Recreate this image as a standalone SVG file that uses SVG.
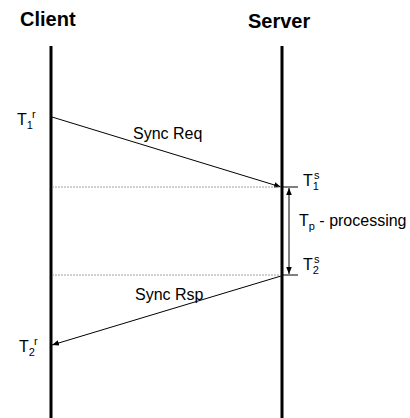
<svg xmlns="http://www.w3.org/2000/svg" width="410" height="418" viewBox="0 0 410 418">
<defs>
<marker id="ah" viewBox="0 0 10 10" refX="10" refY="5" markerWidth="7" markerHeight="7" orient="auto-start-reverse" markerUnits="userSpaceOnUse">
<path d="M0,1 L10,5 L0,9 z" fill="#000"/>
</marker>
<style>
.t{font-family:"Liberation Sans",Arial,sans-serif;font-size:16px;fill:#000}
.h{font-family:"Liberation Sans",Arial,sans-serif;font-size:20px;font-weight:bold;fill:#000}
.s{font-size:11px}
.life{stroke:#000;stroke-width:3;fill:none}
.msg{stroke:#000;stroke-width:1;fill:none}
.dot{stroke:#888;stroke-width:0.8;stroke-dasharray:2 1;fill:none}
</style>
</defs>
<rect width="410" height="418" fill="#fff"/>
<g id="client">
<text class="h" x="20" y="26">Client</text>
<line class="life" x1="51" y1="46" x2="51" y2="418"/>
</g>
<g id="server">
<text class="h" x="248" y="28">Server</text>
<line class="life" x1="282" y1="46" x2="282" y2="418"/>
</g>
<g id="labels">
<text class="t" x="17" y="125">T<tspan class="s" dy="4">1</tspan><tspan class="s" dx="-1" dy="-11">r</tspan></text>
<text class="t" x="303" y="186">T<tspan class="s" dy="4">1</tspan><tspan class="s" dx="-5" dy="-11">s</tspan></text>
<text class="t" x="303" y="270">T<tspan class="s" dy="4">2</tspan><tspan class="s" dx="-5" dy="-11">s</tspan></text>
<text class="t" x="19" y="352">T<tspan class="s" dy="4">2</tspan><tspan class="s" dx="-1" dy="-11">r</tspan></text>
<text class="t" x="299" y="226">T<tspan class="s" dy="4">p</tspan><tspan dy="-4"> - processing</tspan></text>
<text class="t" x="133" y="139">Sync Req</text>
<text class="t" x="135" y="300">Sync Rsp</text>
</g>
<g id="connectors">
<line class="msg" x1="52" y1="117" x2="281" y2="187" marker-end="url(#ah)"/>
<line class="msg" x1="281" y1="276" x2="52" y2="345" marker-end="url(#ah)"/>
<line class="dot" x1="52" y1="187" x2="281" y2="187"/>
<line class="dot" x1="52" y1="275" x2="281" y2="275"/>
<line class="msg" x1="282" y1="187" x2="298" y2="187"/>
<line class="msg" x1="282" y1="275" x2="298" y2="275"/>
<line class="msg" x1="289" y1="188" x2="289" y2="274" marker-start="url(#ah)" marker-end="url(#ah)"/>
</g>
</svg>
